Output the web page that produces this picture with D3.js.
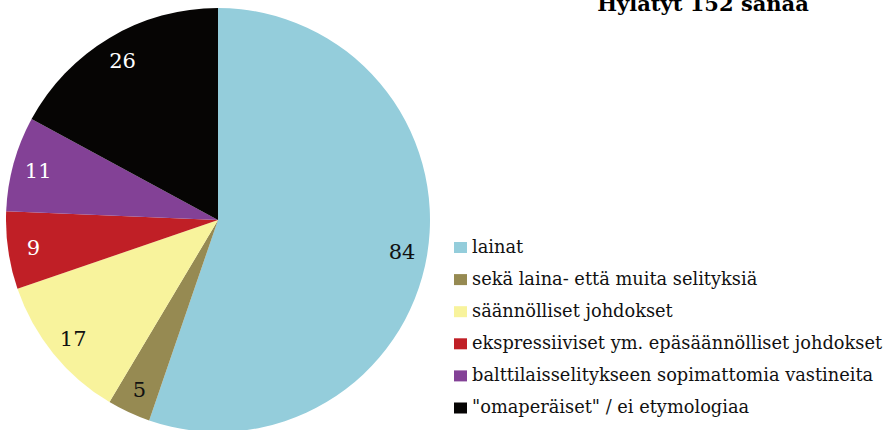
<!DOCTYPE html>
<head>
  <meta charset="utf-8">
  <style>
  body { margin: 0; background: #fff; }
  text { font-family: "DejaVu Serif", "Liberation Serif", serif; }
  .title { font-weight: bold; font-size: 21px; }
  .legend text { font-size: 17.8px; fill: #111; }
  .labels text { font-size: 21px; }
  </style>
  <script src="https://d3js.org/d3.v7.min.js"></script>
</head>
<body>
  <svg width="892" height="430"></svg>
  <script>

  // data
  var categories = ["lainat", "sekä laina- että muita selityksiä", "säännölliset johdokset",
    "ekspressiiviset ym. epäsäännölliset johdokset", "balttilaisselitykseen sopimattomia vastineita",
    "\"omaperäiset\" / ei etymologiaa"];
  var counts = [84, 5, 17, 9, 11, 26];
  var colors = ["#94cddb", "#968a52", "#f8f39c", "#c01f26", "#834196", "#060504"];
  var labelColors = ["#111", "#111", "#111", "#fff", "#fff", "#fff"];
  var title = "Hylätyt 152 sanaa";

  var svg = d3.select("svg");

  var cx = 218, cy = 220, radius = 212;

  var pie = d3.pie().sort(null).value(function(d) { return d; });
  var arc = d3.arc().innerRadius(0).outerRadius(radius);
  var labelArc = d3.arc().innerRadius(radius * 0.88).outerRadius(radius * 0.88);

  var arcs = pie(counts);

  var g = svg.append("g").attr("transform", "translate(" + cx + "," + cy + ")");

  g.selectAll("path")
    .data(arcs)
    .enter().append("path")
    .attr("d", arc)
    .attr("fill", function(d, i) { return colors[i]; });

  g.append("g").attr("class", "labels")
    .selectAll("text")
    .data(arcs)
    .enter().append("text")
    .attr("transform", function(d) { return "translate(" + labelArc.centroid(d) + ")"; })
    .attr("text-anchor", "middle")
    .attr("dy", "0.38em")
    .attr("fill", function(d, i) { return labelColors[i]; })
    .text(function(d) { return d.data; });

  svg.append("text")
    .attr("class", "title")
    .attr("x", 703)
    .attr("y", 11)
    .attr("text-anchor", "middle")
    .text(title);

  var legend = svg.append("g").attr("class", "legend")
    .attr("transform", "translate(454,242)");

  var item = legend.selectAll("g")
    .data(categories)
    .enter().append("g")
    .attr("transform", function(d, i) { return "translate(0," + (i * 32.1) + ")"; });

  item.append("rect")
    .attr("width", 13)
    .attr("height", 11)
    .attr("fill", function(d, i) { return colors[i]; });

  item.append("text")
    .attr("x", 18)
    .attr("y", 10.5)
    .text(function(d) { return d; });

  </script>
</body>
